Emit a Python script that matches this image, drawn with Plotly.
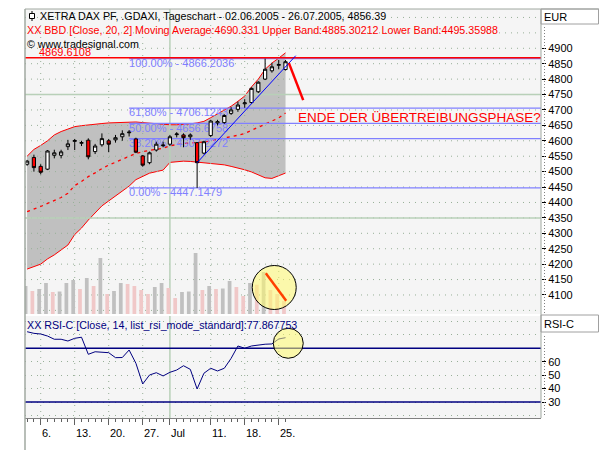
import plotly.graph_objects as go

# trading days shown on the chart (02.06.2005 - 26.07.2005)
DATES = ['2005-06-02', '2005-06-03', '2005-06-06', '2005-06-07', '2005-06-08', '2005-06-09',
         '2005-06-10', '2005-06-13', '2005-06-14', '2005-06-15', '2005-06-16', '2005-06-17',
         '2005-06-20', '2005-06-21', '2005-06-22', '2005-06-23', '2005-06-24', '2005-06-27',
         '2005-06-28', '2005-06-29', '2005-06-30', '2005-07-01', '2005-07-04', '2005-07-05',
         '2005-07-06', '2005-07-07', '2005-07-08', '2005-07-11', '2005-07-12', '2005-07-13',
         '2005-07-14', '2005-07-15', '2005-07-18', '2005-07-19', '2005-07-20', '2005-07-21',
         '2005-07-22', '2005-07-25', '2005-07-26']

OPEN = [4524, 4546, 4517, 4508, 4553, 4553, 4581, 4598, 4592, 4602, 4565, 4587, 4600,
        4603, 4613, 4626, 4606, 4551, 4529, 4570, 4584, 4589, 4620, 4619, 4613, 4594,
        4560, 4617, 4658, 4659, 4689, 4702, 4720, 4724, 4759, 4800, 4827, 4845, 4831]
HIGH = [4538, 4555, 4524, 4570, 4571, 4571, 4603, 4606, 4600, 4608, 4590, 4624, 4606,
        4619, 4634, 4635, 4610, 4554, 4565, 4597, 4597, 4619, 4628, 4624, 4624, 4596,
        4600, 4668, 4668, 4686, 4709, 4727, 4735, 4773, 4793, 4866.2036, 4853, 4862, 4862]
LOW = [4519, 4500, 4491, 4505, 4543, 4543, 4570, 4570, 4583, 4540, 4557, 4581, 4563,
       4594, 4600, 4614, 4560, 4516, 4524, 4565, 4579, 4583, 4611, 4579, 4603, 4447.1479,
       4556, 4612, 4650, 4655, 4684, 4694, 4707, 4720, 4755, 4797, 4821, 4832, 4828]
CLOSE = [4534, 4513, 4498, 4567, 4561, 4564, 4590, 4601, 4594, 4548, 4583, 4607, 4589,
         4610, 4623, 4628, 4563, 4521, 4561, 4589, 4586, 4613, 4622, 4610, 4619, 4529,
         4597, 4664, 4662, 4682, 4700, 4716, 4723, 4770, 4790, 4832, 4840, 4847, 4856.39]

VOLUME = [28, 23, 25, 31, 22, 22.5, 31, 34, 25, 36, 28, 56, 20, 23, 31, 30, 28, 24, 20,
          27, 31, 26, 16, 22, 22.5, 61, 24, 28, 25, 25.5, 33, 27, 18, 31, 29.3, 42, 24, 20, 13]

BB_UPPER = [4550, 4572, 4585, 4600, 4619, 4630, 4638, 4646, 4649, 4652, 4654, 4656, 4658,
            4659, 4661, 4662, 4661, 4659, 4657, 4655, 4653, 4652, 4652, 4653, 4655, 4658,
            4663, 4675, 4688, 4700, 4712, 4728, 4745, 4775, 4800, 4832, 4852, 4868, 4885.30212]
BB_LOWER = [4184, 4191, 4200, 4217, 4230, 4246, 4262, 4296, 4317, 4343, 4366, 4389, 4405,
            4421, 4437, 4453, 4474, 4485, 4495, 4500, 4505, 4530, 4533, 4534, 4533, 4531,
            4530, 4528, 4526, 4522, 4517, 4512, 4506, 4499, 4489, 4480, 4478, 4486, 4495.35988]
BB_MID = [4370, 4378, 4387, 4397, 4407, 4416, 4430, 4455, 4468, 4484, 4496, 4510, 4521,
          4531, 4541, 4550, 4559, 4565, 4568, 4572, 4576, 4584, 4588, 4591, 4593, 4594,
          4596, 4600, 4604, 4608, 4613, 4618, 4624, 4634, 4642, 4652, 4662, 4674, 4690.331]

RSI = [82.3, 81.1, 80.6, 79.1, 76.7, 76.7, 75.4, 77.4, 78.2, 65.5, 67.4, 66.9, 66.7,
       63.0, 63.1, 68.7, 58.8, 43.4, 50.1, 51.8, 49.4, 52.1, 53.8, 57.0, 54.3, 39.7,
       51.4, 55.1, 53.1, 55.1, 62.5, 71.7, 70.0, 71.7, 72.4, 73.0, 73.2, 76.9, 77.867753]

FIB_PRICES = [4447.1479, 4607.2272, 4656.6758, 4706.1243, 4866.2036]
FIB_LABELS = ['0.00% - 4447.1479', '38.20% - 4607.2272', '50.00% - 4656.6758',
              '61,80% - 4706.1243', '100.00% - 4866.2036']
FIB_START = '2005-06-23'
HLINE_PRICE = 4869.6108

# hand drawn marks (trading-day position, value)
TREND_POS = [25, 39.5]
TREND_PRICE = [4529, 4876]
ARROW_POS = [38.5, 40.6]
ARROW_PRICE = [4852, 4732]
VOL_PEN_POS = [35.1, 38.1]
VOL_PEN_VAL = [40.7, 13.3]
NOTE_POS, NOTE_PRICE = 39.7, 4676
NOTE_TEXT = 'ENDE DER ÜBERTREIBUNGSPHASE?'
VOL_CIRCLE = (36.34, 26.5)
RSI_CIRCLE = (38.4, 73.7)

TICK_DATES = ['2005-06-06', '2005-06-13', '2005-06-20', '2005-06-27', '2005-07-01',
              '2005-07-11', '2005-07-18', '2005-07-25']
TICK_TEXT = ['6.', '13.', '20.', '27.', 'Jul', '11.', '18.', '25.']
MONTH_DATE = '2005-07-01'
PRICE_TICKS = [4100, 4150, 4200, 4250, 4300, 4350, 4400, 4450, 4500, 4550, 4600, 4650,
               4700, 4750, 4800, 4850, 4900]
PRICE_GRID = [4050] + PRICE_TICKS + [4950, 5000]
PRICE_MAJOR = [4350, 4750]
RSI_TICKS = [30, 40, 50, 60]
RSI_BANDS = [70, 30]

TITLE = 'XETRA DAX PF, .GDAXI, Tageschart - 02.06.2005 - 26.07.2005, 4856.39'
BB_TITLE = ('XX BBD [Close, 20, 2] Moving Average:4690.331 Upper Band:4885.30212 '
            'Lower Band:4495.35988')
RSI_TITLE = 'XX RSI-C [Close, 14, list_rsi_mode_standard]:77.867753'

RED = '#ff0000'
NAVY = '#000080'
FIB_COLOR = '#8080ff'
GRID_COLOR = '#98b098'
MAJOR_COLOR = '#b8d0b8'
FRAME_COLOR = '#a0a8a0'
FONT = 'Liberation Sans, Arial, sans-serif'

X_RANGE = [-0.31, 75.57]
Y_RANGE = [4038.3, 5027.4]
RSI_RANGE = [18.1, 94.0]
VOL_RANGE = [0, 305]

# figure geometry (pixels) -> paper coordinates
L, R, T, B = 25, 541, 9, 418


def px(x):
    return (x - L) / (R - L)


def py(y):
    return (B - y) / (B - T)


def segments(positions, lo, hi, vertical):
    xs, ys = [], []
    for p in positions:
        if vertical:
            xs += [p, p, None]
            ys += [lo, hi, None]
        else:
            xs += [lo, hi, None]
            ys += [p, p, None]
    return xs, ys


pos = list(range(len(DATES)))
tick_pos = [DATES.index(d) for d in TICK_DATES]
month_pos = DATES.index(MONTH_DATE)
week_pos = [p for p in tick_pos if p != month_pos]

vol_colors = ['#c0c0c0'] + ['#c0c0c0' if VOLUME[i] >= VOLUME[i - 1] else '#f0c8c8'
                            for i in range(1, len(VOLUME))]

fig = go.Figure()

# bollinger band
fig.add_trace(go.Scatter(x=pos, y=BB_UPPER, mode='lines', line=dict(color=RED, width=1)))
fig.add_trace(go.Scatter(x=pos, y=BB_LOWER, mode='lines', line=dict(color=RED, width=1),
                         fill='tonexty', fillcolor='#c0c0c0'))

# grid drawn above the band fill
gx, gy = segments(PRICE_GRID, X_RANGE[0], X_RANGE[1], False)
fig.add_trace(go.Scatter(x=gx, y=gy, mode='lines',
                         line=dict(color=GRID_COLOR, width=1, dash='1px,5px')))
gx, gy = segments(week_pos, Y_RANGE[0], Y_RANGE[1], True)
fig.add_trace(go.Scatter(x=gx, y=gy, mode='lines',
                         line=dict(color=GRID_COLOR, width=1, dash='1px,5px')))
gx, gy = segments(PRICE_MAJOR, X_RANGE[0], X_RANGE[1], False)
mx, my = segments([month_pos], Y_RANGE[0], Y_RANGE[1], True)
fig.add_trace(go.Scatter(x=gx + mx, y=gy + my, mode='lines',
                         line=dict(color=MAJOR_COLOR, width=1.5)))

fig.add_trace(go.Scatter(x=pos, y=BB_MID, mode='lines',
                         line=dict(color=RED, width=1.3, dash='3px,4px')))

# fibonacci retracement
fib_start = DATES.index(FIB_START)
fx, fy = segments(FIB_PRICES, fib_start, X_RANGE[1], False)
fig.add_trace(go.Scatter(x=fx, y=fy, mode='lines', line=dict(color=FIB_COLOR, width=1.2)))
fig.add_trace(go.Scatter(x=[fib_start] * len(FIB_PRICES), y=FIB_PRICES, mode='text',
                         text=FIB_LABELS, textposition='bottom right',
                         textfont=dict(family=FONT, size=11, color=FIB_COLOR)))

fig.add_trace(go.Scatter(x=X_RANGE, y=[HLINE_PRICE, HLINE_PRICE], mode='lines',
                         line=dict(color=RED, width=1.5)))

# volume (own scale, overlaid on the price panel)
fig.add_trace(go.Bar(x=pos, y=VOLUME, yaxis='y3', width=0.55, offset=-0.5,
                     marker=dict(color=vol_colors, line=dict(width=0))))

# candles on an overlay axis so they sit above the band fill
fig.add_trace(go.Candlestick(
    x=pos, open=OPEN, high=HIGH, low=LOW, close=CLOSE, whiskerwidth=0, yaxis='y4',
    increasing=dict(fillcolor='#ffffff', line=dict(color='#000000', width=1)),
    decreasing=dict(fillcolor='#ff0000', line=dict(color='#000000', width=1))))
fig.add_trace(go.Scatter(x=TREND_POS, y=TREND_PRICE, yaxis='y4', mode='lines',
                         line=dict(color='#0000ff', width=1)))
fig.add_trace(go.Scatter(x=ARROW_POS, y=ARROW_PRICE, yaxis='y4', mode='lines',
                         line=dict(color=RED, width=2.5)))

# RSI panel
gx, gy = segments(week_pos, RSI_RANGE[0], RSI_RANGE[1], True)
fig.add_trace(go.Scatter(x=gx, y=gy, yaxis='y2', mode='lines',
                         line=dict(color=GRID_COLOR, width=1, dash='1px,5px')))
fig.add_trace(go.Scatter(x=[month_pos, month_pos], y=RSI_RANGE, yaxis='y2', mode='lines',
                         line=dict(color=MAJOR_COLOR, width=1.5)))
bx, by = segments(RSI_BANDS, X_RANGE[0], X_RANGE[1], False)
fig.add_trace(go.Scatter(x=bx, y=by, yaxis='y2', mode='lines',
                         line=dict(color=NAVY, width=1.3)))
fig.add_trace(go.Scatter(x=pos, y=RSI, yaxis='y2', mode='lines',
                         line=dict(color=NAVY, width=1)))

shapes = [
    # highlight circles and pen stroke
    dict(type='circle', xref='x', yref='y3', xsizemode='pixel', ysizemode='pixel',
         xanchor=VOL_CIRCLE[0], yanchor=VOL_CIRCLE[1], x0=-22, x1=22, y0=-22, y1=22,
         fillcolor='rgba(255,250,110,0.55)', line=dict(color='#000000', width=1)),
    dict(type='line', xref='x', yref='y3', x0=VOL_PEN_POS[0], x1=VOL_PEN_POS[1],
         y0=VOL_PEN_VAL[0], y1=VOL_PEN_VAL[1], line=dict(color='#ff4000', width=2.5)),
    dict(type='circle', xref='x', yref='y2', xsizemode='pixel', ysizemode='pixel',
         xanchor=RSI_CIRCLE[0], yanchor=RSI_CIRCLE[1], x0=-15, x1=15, y0=-15, y1=15,
         fillcolor='rgba(255,250,110,0.55)', line=dict(color='#000000', width=1)),
    # frame and right-hand scale boxes
    dict(type='line', xref='paper', yref='paper', x0=0, x1=0, y0=py(450), y1=1,
         line=dict(color=FRAME_COLOR, width=1.5)),
    dict(type='line', xref='paper', yref='paper', x0=0, x1=px(599), y0=1, y1=1,
         line=dict(color=FRAME_COLOR, width=1)),
    dict(type='line', xref='paper', yref='paper', x0=1, x1=1, y0=0, y1=1,
         line=dict(color=FRAME_COLOR, width=1)),
    dict(type='rect', xref='paper', yref='paper', x0=1, x1=px(598.5), y0=py(24), y1=1,
         line=dict(color='#a0a0a0', width=1)),
    dict(type='rect', xref='paper', yref='paper', x0=1, x1=px(598.5), y0=py(332), y1=py(315),
         line=dict(color='#a0a0a0', width=1)),
    dict(type='line', xref='paper', yref='paper', x0=px(544.5), x1=px(544.5),
         y0=py(313), y1=py(27), line=dict(color='#808080', width=1, dash='1px,2px')),
    dict(type='line', xref='paper', yref='paper', x0=px(544.5), x1=px(544.5),
         y0=py(415), y1=py(335), line=dict(color='#808080', width=1, dash='1px,2px')),
    # candle icon in front of the title
    dict(type='line', xref='paper', yref='paper', xsizemode='pixel', ysizemode='pixel',
         xanchor=0, yanchor=1, x0=7, x1=7, y0=-2, y1=-12,
         line=dict(color='#000000', width=1)),
    dict(type='rect', xref='paper', yref='paper', xsizemode='pixel', ysizemode='pixel',
         xanchor=0, yanchor=1, x0=4.5, x1=9.5, y0=-4.5, y1=-9.5,
         fillcolor='#ffffff', line=dict(color='#000000', width=1)),
]


def label(text, x, y, color='#000000', size=10.7, xref='paper', yref='paper',
          xanchor='left', yanchor='middle', yshift=0):
    return dict(text=text, x=x, y=y, xref=xref, yref=yref, xanchor=xanchor,
                yanchor=yanchor, yshift=yshift, showarrow=False, borderpad=0,
                font=dict(family=FONT, size=size, color=color))


annotations = [
    label(TITLE, px(39), py(15.7)),
    label(BB_TITLE, px(25.5), py(30), color=RED),
    label('4869.6108', px(37.5), HLINE_PRICE, color=RED, size=11, yref='y',
          yanchor='bottom', yshift=-1.5),
    label('© www.tradesignal.com', px(25.5), py(44)),
    label(NOTE_TEXT, NOTE_POS, NOTE_PRICE, color=RED, size=13.5, xref='x', yref='y'),
    label(RSI_TITLE, px(25.5), py(325), color=NAVY),
    label('EUR', px(543), py(17), size=11),
    label('RSI-C', px(543), py(324), size=11),
]
for p, t in zip(tick_pos, TICK_TEXT):
    annotations.append(label(t, p, py(433), size=11, xref='x'))

fig.update_layout(
    width=600, height=450,
    margin=dict(l=L, r=600 - R, t=T, b=450 - B),
    paper_bgcolor='#ffffff', plot_bgcolor='#f5f5f5',
    showlegend=False, hovermode=False, boxgap=0.32,
    font=dict(family=FONT, size=11, color='#000000'),
    xaxis=dict(range=X_RANGE, anchor='y2', showgrid=False, zeroline=False,
               rangeslider=dict(visible=False), showline=True, linecolor='#808080',
               linewidth=1, ticks='outside', ticklen=6, tickcolor='#606060',
               tickmode='array', tickvals=tick_pos, showticklabels=False,
               minor=dict(tickmode='array', tickvals=pos, ticks='outside', ticklen=3,
                          tickcolor='#606060', showgrid=False)),
    yaxis=dict(domain=[py(314), 1], range=Y_RANGE, anchor='x', side='right',
               showgrid=False, zeroline=False, showline=False, ticks='outside',
               ticklen=4, tickcolor='#000000', tickmode='array', tickvals=PRICE_TICKS,
               tickfont=dict(size=11, color='#000000')),
    yaxis2=dict(domain=[0, py(316)], range=RSI_RANGE, anchor='x', side='right',
                showgrid=True, gridcolor=GRID_COLOR, griddash='1px,5px',
                zeroline=False, showline=False, ticks='outside', ticklen=4,
                tickcolor='#000000', tickmode='array', tickvals=RSI_TICKS,
                tickfont=dict(size=11, color='#000000'),
                minor=dict(tickmode='array', tickvals=[20, 70, 80, 90], showgrid=True,
                           gridcolor=GRID_COLOR, griddash='1px,5px', ticks='')),
    yaxis3=dict(overlaying='y', range=VOL_RANGE, visible=False),
    yaxis4=dict(overlaying='y', range=Y_RANGE, visible=False),
    shapes=shapes,
    annotations=annotations,
)

fig.write_html('out.html', config={'displayModeBar': False},
               post_script="document.body.style.margin = '0';")
